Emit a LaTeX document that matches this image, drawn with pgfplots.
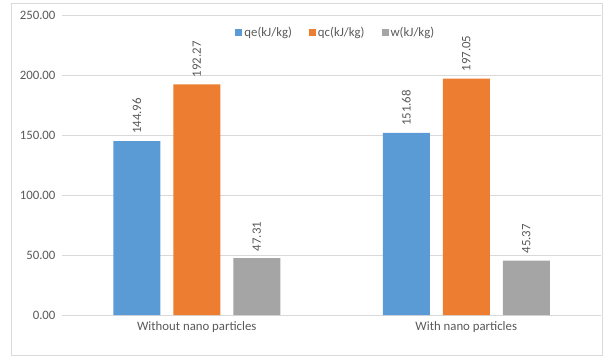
\documentclass[border=0pt]{standalone}
\usepackage{pgfplots}
\pgfplotsset{compat=1.18}
\usepackage{fontspec}
\setmainfont{Carlito}
\definecolor{cBlue}{HTML}{5B9BD5}
\definecolor{cOrange}{HTML}{ED7D31}
\definecolor{cGray}{HTML}{A5A5A5}
\definecolor{cText}{HTML}{595959}
\definecolor{cGrid}{HTML}{D9D9D9}
\begin{document}
\begin{tikzpicture}
\useasboundingbox (-62pt,-45pt) rectangle (542pt,315pt);
\draw[cGrid, line width=1pt] (-50pt,-40pt) rectangle (540pt,312pt);
\begin{axis}[
  at={(0pt,0pt)}, anchor=south west,
  scale only axis,
  width=539pt, height=300pt,
  ybar=13pt, bar width=47pt,
  xmin=-0.5, xmax=1.5,
  ymin=0, ymax=250,
  xtick={0,1},
  xticklabels={Without nano particles, With nano particles},
  ytick={0,50,100,150,200,250},
  /pgf/number format/assume math mode=true,
  /pgf/number format/fixed,
  /pgf/number format/fixed zerofill,
  /pgf/number format/precision=2,
  major tick length=0pt,
  axis line style={draw=none},
  ymajorgrids, major grid style={cGrid, line width=0.8pt},
  tick label style={font=\fontsize{12.8}{14}\selectfont, text=cText},
  yticklabel style={xshift=-3pt},
  xticklabel style={yshift=-3pt},
  nodes near coords,
  every node near coord/.append style={font=\fontsize{12.8}{14}\selectfont, text=cText, anchor=west, yshift=6pt, rotate=90, inner sep=1pt},
  legend columns=3,
  legend style={draw=none, fill=none, font=\fontsize{12.8}{14}\selectfont, text=cText,
    at={(0.508,0.943)}, anchor=center,
    /tikz/every even column/.append style={column sep=15pt}},
  legend image code/.code={\fill[#1] (0pt,-3.5pt) rectangle (7pt,3.5pt);},
]
\addplot[fill=cBlue, draw=none] coordinates {(0,144.96) (1,151.68)};
\addplot[fill=cOrange, draw=none] coordinates {(0,192.27) (1,197.05)};
\addplot[fill=cGray, draw=none] coordinates {(0,47.31) (1,45.37)};
\legend{qe(kJ/kg), qc(kJ/kg), w(kJ/kg)}
\end{axis}
\end{tikzpicture}
\end{document}
